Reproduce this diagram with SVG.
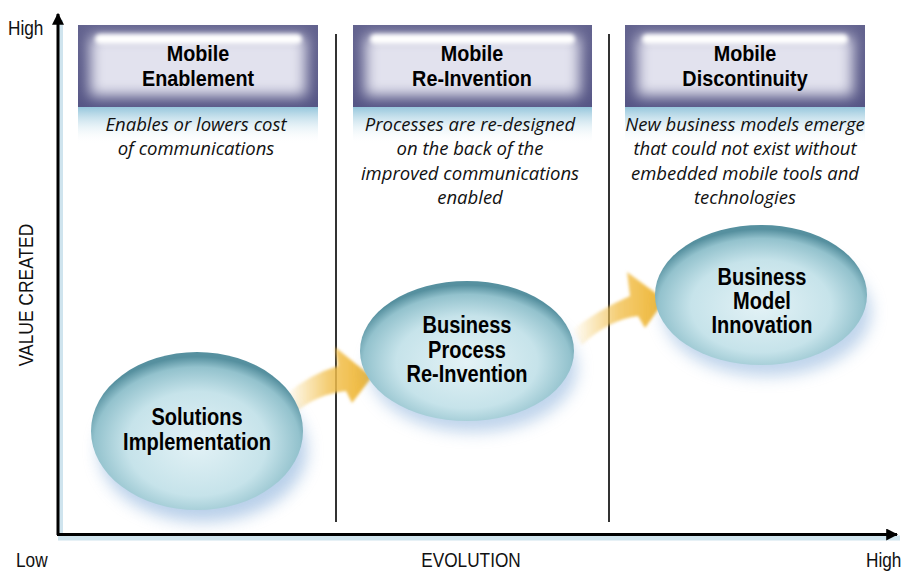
<svg xmlns="http://www.w3.org/2000/svg" width="903" height="573" viewBox="0 0 903 573">
<defs>
<style>
.hdr{font-family:"Liberation Sans",Arial,sans-serif;font-weight:bold;font-size:22px;fill:#000;text-anchor:middle}
.desc{font-family:"Open Sans","Liberation Sans",sans-serif;font-style:italic;font-size:18.5px;fill:#111;text-anchor:middle}
.node{font-family:"Liberation Sans",Arial,sans-serif;font-weight:bold;font-size:23px;fill:#000;text-anchor:middle}
.ax{font-family:"Liberation Sans",Arial,sans-serif;font-size:21px;fill:#111}
.div{stroke:#333;stroke-width:2}
</style>
<linearGradient id="boxg" x1="0" y1="0" x2="0" y2="1">
<stop offset="0" stop-color="#62628e"/><stop offset="1" stop-color="#555585"/>
</linearGradient>
<linearGradient id="glow" x1="0" y1="0" x2="0" y2="1">
<stop offset="0" stop-color="#8fc3da"/><stop offset="1" stop-color="#ffffff" stop-opacity="0"/>
</linearGradient>
<radialGradient id="ell" cx="0.5" cy="0.58" r="0.55">
<stop offset="0" stop-color="#e3f2f6"/><stop offset="0.6" stop-color="#c6e3ea"/><stop offset="0.88" stop-color="#93c2cd"/><stop offset="1" stop-color="#56909f"/>
</radialGradient>
<linearGradient id="arr1" x1="0" y1="0" x2="1" y2="0">
<stop offset="0" stop-color="#f3c24e" stop-opacity="0"/><stop offset="0.5" stop-color="#f1c050" stop-opacity="0.8"/><stop offset="1" stop-color="#eeb431"/>
</linearGradient>
<filter id="blur8" x="-30%" y="-30%" width="160%" height="160%"><feGaussianBlur stdDeviation="8"/></filter>
<filter id="blur5" x="-30%" y="-30%" width="160%" height="160%"><feGaussianBlur stdDeviation="7"/></filter>
<filter id="blur2" x="-20%" y="-50%" width="140%" height="200%"><feGaussianBlur stdDeviation="2"/></filter>
<filter id="blur1" x="-20%" y="-20%" width="140%" height="140%"><feGaussianBlur stdDeviation="1.5"/></filter>
<marker id="ah" viewBox="0 0 10 10" refX="9" refY="5" markerWidth="4" markerHeight="4" orient="auto">
<path d="M0,0 L10,5 L0,10 Z" fill="#000"/>
</marker>
</defs>
<rect width="903" height="573" fill="#fff"/>

<!-- axes -->
<g id="axes">
<line x1="61" y1="20" x2="61" y2="537" stroke="#cfe4ee" stroke-width="4"/>
<line x1="58" y1="538" x2="900" y2="538" stroke="#cfe4ee" stroke-width="5"/>
<line x1="58" y1="535" x2="58" y2="14" stroke="#000" stroke-width="3" marker-end="url(#ah)"/>
<line x1="57" y1="534.5" x2="897" y2="534.5" stroke="#000" stroke-width="3" marker-end="url(#ah)"/>
<line class="div" x1="336" y1="34" x2="336" y2="522"/>
<line class="div" x1="609" y1="34" x2="609" y2="522"/>
<text class="ax" transform="translate(8,35) scale(0.82,1)">High</text>
<text class="ax" transform="translate(16,567) scale(0.82,1)">Low</text>
<text class="ax" transform="translate(471,567) scale(0.82,1)" text-anchor="middle">EVOLUTION</text>
<text class="ax" transform="translate(866,567) scale(0.82,1)">High</text>
<text class="ax" transform="translate(33,295) rotate(-90) scale(0.83,1)" text-anchor="middle">VALUE CREATED</text>
</g>

<!-- header 1 -->
<g id="hdr1">
<rect x="78" y="106" width="240" height="38" fill="url(#glow)"/>
<rect x="78" y="25" width="240" height="82" fill="url(#boxg)"/>
<rect x="90" y="36" width="216" height="60" fill="#e2e2ee" filter="url(#blur5)"/>
<rect x="95" y="34" width="207" height="10" rx="5" fill="#fff" filter="url(#blur2)"/>
<g transform="translate(198,0) scale(0.9,1)">
<text class="hdr" x="0" y="61">Mobile</text>
<text class="hdr" x="0" y="86">Enablement</text>
</g>
<text class="desc" x="196" y="131">Enables or lowers cost</text>
<text class="desc" x="196" y="155">of communications</text>
</g>

<!-- header 2 -->
<g id="hdr2">
<rect x="353" y="106" width="239" height="38" fill="url(#glow)"/>
<rect x="353" y="25" width="239" height="82" fill="url(#boxg)"/>
<rect x="365" y="36" width="215" height="60" fill="#e2e2ee" filter="url(#blur5)"/>
<rect x="370" y="34" width="205" height="10" rx="5" fill="#fff" filter="url(#blur2)"/>
<g transform="translate(472,0) scale(0.9,1)">
<text class="hdr" x="0" y="61">Mobile</text>
<text class="hdr" x="0" y="86">Re-Invention</text>
</g>
<text class="desc" x="470" y="131">Processes are re-designed</text>
<text class="desc" x="470" y="155">on the back of the</text>
<text class="desc" x="470" y="180">improved communications</text>
<text class="desc" x="470" y="204">enabled</text>
</g>

<!-- header 3 -->
<g id="hdr3">
<rect x="625" y="106" width="240" height="38" fill="url(#glow)"/>
<rect x="625" y="25" width="240" height="82" fill="url(#boxg)"/>
<rect x="637" y="36" width="216" height="60" fill="#e2e2ee" filter="url(#blur5)"/>
<rect x="642" y="34" width="206" height="10" rx="5" fill="#fff" filter="url(#blur2)"/>
<g transform="translate(745,0) scale(0.9,1)">
<text class="hdr" x="0" y="61">Mobile</text>
<text class="hdr" x="0" y="86">Discontinuity</text>
</g>
<text class="desc" x="745" y="131">New business models emerge</text>
<text class="desc" x="745" y="155">that could not exist without</text>
<text class="desc" x="745" y="180">embedded mobile tools and</text>
<text class="desc" x="745" y="204">technologies</text>
</g>

<!-- connectors -->
<g id="connectors" filter="url(#blur1)">
<path d="M285,395 Q310,374 338,366 L335,347 L372,377 L352,403 L346,391 Q318,394 296,412 Z" fill="url(#arr1)"/>
<path d="M572,330 Q598,310 630,296 L627,272 L665,300 L645,328 L638,316 Q608,320 582,345 Z" fill="url(#arr1)"/>
</g>

<!-- node 1 -->
<g id="node1">
<ellipse cx="203" cy="450" rx="104" ry="72" fill="#7fa9d8" opacity="0.55" filter="url(#blur8)"/>
<ellipse cx="197" cy="431" rx="106" ry="79" fill="url(#ell)"/>
<g transform="translate(197,0) scale(0.87,1)">
<text class="node" x="0" y="425">Solutions</text>
<text class="node" x="0" y="450">Implementation</text>
</g>
</g>

<!-- node 2 -->
<g id="node2">
<ellipse cx="473" cy="368" rx="104" ry="64" fill="#7fa9d8" opacity="0.5" filter="url(#blur8)"/>
<ellipse cx="467" cy="351" rx="107" ry="70" fill="url(#ell)"/>
<g transform="translate(467,0) scale(0.87,1)">
<text class="node" x="0" y="333">Business</text>
<text class="node" x="0" y="358">Process</text>
<text class="node" x="0" y="382">Re-Invention</text>
</g>
</g>

<!-- node 3 -->
<g id="node3">
<ellipse cx="767" cy="312" rx="104" ry="64" fill="#7fa9d8" opacity="0.5" filter="url(#blur8)"/>
<ellipse cx="761" cy="295" rx="106" ry="70" fill="url(#ell)"/>
<g transform="translate(762,0) scale(0.87,1)">
<text class="node" x="0" y="285">Business</text>
<text class="node" x="0" y="309">Model</text>
<text class="node" x="0" y="333">Innovation</text>
</g>
</g>
</svg>
